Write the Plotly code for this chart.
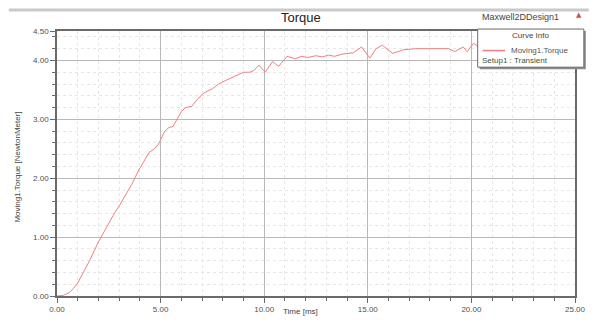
import plotly.graph_objects as go

# Transient torque on Moving1 (time in ms, torque in N·m)
time_ms = [0.0, 0.3, 0.6, 0.8, 1.0, 1.3, 1.6, 2.0, 2.4, 2.7, 3.0, 3.3, 3.6, 3.95,
           4.2, 4.45, 4.7, 4.9, 5.2, 5.4, 5.6, 5.8, 6.0, 6.2, 6.5, 6.8, 7.1, 7.5,
           7.8, 8.2, 8.7, 9.0, 9.3, 9.5, 9.75, 10.05, 10.4, 10.7, 11.1, 11.5, 11.8,
           12.1, 12.5, 12.8, 13.1, 13.4, 13.8, 14.3, 14.7, 15.1, 15.4, 15.7, 16.2,
           16.7, 17.3, 17.8, 18.2, 18.9, 19.2, 19.6, 19.8, 20.1, 20.5, 21.0, 21.5,
           22.0, 22.5, 23.0, 23.5, 24.0, 24.5, 25.0]
torque_nm = [0.0, 0.01, 0.06, 0.13, 0.22, 0.42, 0.62, 0.92, 1.18, 1.36, 1.53, 1.72,
             1.89, 2.14, 2.30, 2.44, 2.50, 2.58, 2.80, 2.86, 2.88, 3.00, 3.13, 3.20,
             3.22, 3.35, 3.45, 3.52, 3.60, 3.67, 3.76, 3.80, 3.80, 3.83, 3.92, 3.80,
             3.98, 3.90, 4.07, 4.03, 4.07, 4.05, 4.08, 4.06, 4.09, 4.07, 4.11, 4.13,
             4.23, 4.04, 4.20, 4.26, 4.12, 4.18, 4.20, 4.20, 4.20, 4.20, 4.15, 4.23,
             4.15, 4.29, 4.20, 4.24, 4.18, 4.22, 4.20, 4.23, 4.19, 4.22, 4.20, 4.21]

x_ticks = [0, 5, 10, 15, 20, 25]
y_ticks = [0, 1, 2, 3, 4, 4.5]
y_tick_text = ["0.00", "1.00", "2.00", "3.00", "4.00", "4.50"]

FONT = "Liberation Sans"
CURVE = "rgb(238,128,132)"

fig = go.Figure()
fig.add_trace(go.Scatter(x=time_ms, y=torque_nm, mode="lines",
                         line=dict(color=CURVE, width=1), name="Moving1.Torque",
                         showlegend=False))

axis_common = dict(
    showline=True, linecolor="#6a6a6a", linewidth=1.5, mirror=True,
    showgrid=True, gridcolor="#b8b8b8", gridwidth=1,
    ticks="outside", ticklen=5, tickcolor="#6a6a6a",
    tickfont=dict(family=FONT, size=8, color="#505050"),
    zeroline=False,
)

fig.update_xaxes(range=[0, 25], tickvals=x_ticks,
                 ticktext=[f"{v:.2f}" for v in x_ticks],
                 minor=dict(dtick=1, tick0=0, ticks="outside", ticklen=3,
                            tickcolor="#6a6a6a", showgrid=True,
                            gridcolor="#e6e6e6", griddash="dot"),
                 **axis_common)
fig.update_yaxes(range=[0, 4.5], tickvals=y_ticks, ticktext=y_tick_text,
                 minor=dict(dtick=0.2, tick0=0, ticks="outside", ticklen=3,
                            tickcolor="#6a6a6a", showgrid=True,
                            gridcolor="#e6e6e6", griddash="dot"),
                 **axis_common)

# plot area in pixels: x 57..584, y 31..302
L, R, T, B = 57, 584, 31, 302
W, H = R - L, B - T


def px(x):
    return (x - L) / W


def py(y):
    return (B - y) / H


shapes = [
    # window header band
    dict(type="rect", xref="paper", yref="paper", x0=px(8), x1=px(598),
         y0=py(11), y1=py(8), fillcolor="#c9c9c9", line=dict(width=0), layer="above"),
    # legend box shadow and frame
    dict(type="rect", xref="paper", yref="paper", x0=px(487), x1=px(595),
         y0=py(70), y1=py(31), fillcolor="#8a8a8a", line=dict(width=0), layer="above"),
    dict(type="rect", xref="paper", yref="paper", x0=px(485), x1=px(593),
         y0=py(68), y1=py(29), fillcolor="white",
         line=dict(color="#6a6a6a", width=1), layer="above"),
    # legend sample line
    dict(type="line", xref="paper", yref="paper", x0=px(490), x1=px(513),
         y0=py(51), y1=py(51), line=dict(color=CURVE, width=1.5), layer="above"),
]

annotations = [
    dict(text="Torque", x=px(305), y=py(17), font=dict(family=FONT, size=13, color="#222222")),
    dict(text="Maxwell2DDesign1", x=px(570), y=py(17), xanchor="right",
         font=dict(family=FONT, size=9, color="#444444")),
    dict(text="▲", x=px(588), y=py(15), font=dict(family="DejaVu Sans", size=7, color="#d05050")),
    dict(text="Curve Info", x=px(539), y=py(36), font=dict(family=FONT, size=8, color="#444444")),
    dict(text="Moving1.Torque", x=px(517), y=py(51), xanchor="left",
         font=dict(family=FONT, size=8, color="#555555")),
    dict(text="Setup1 : Transient", x=px(487), y=py(61), xanchor="left",
         font=dict(family=FONT, size=8, color="#3b5440")),
    dict(text="Time [ms]", x=px(305), y=py(318),
         font=dict(family=FONT, size=8, color="#444444")),
    dict(text="Moving1.Torque [NewtonMeter]", x=px(17), y=py(170), textangle=-90,
         font=dict(family=FONT, size=8, color="#444444")),
]
for a in annotations:
    a.update(xref="paper", yref="paper", showarrow=False)
    a.setdefault("xanchor", "center")
    a["yanchor"] = "middle"

fig.update_layout(
    width=598, height=326,
    margin=dict(l=L, r=598 - R, t=T, b=326 - B),
    paper_bgcolor="white", plot_bgcolor="white",
    shapes=shapes, annotations=annotations,
    showlegend=False,
)

fig.write_html("out.html")
